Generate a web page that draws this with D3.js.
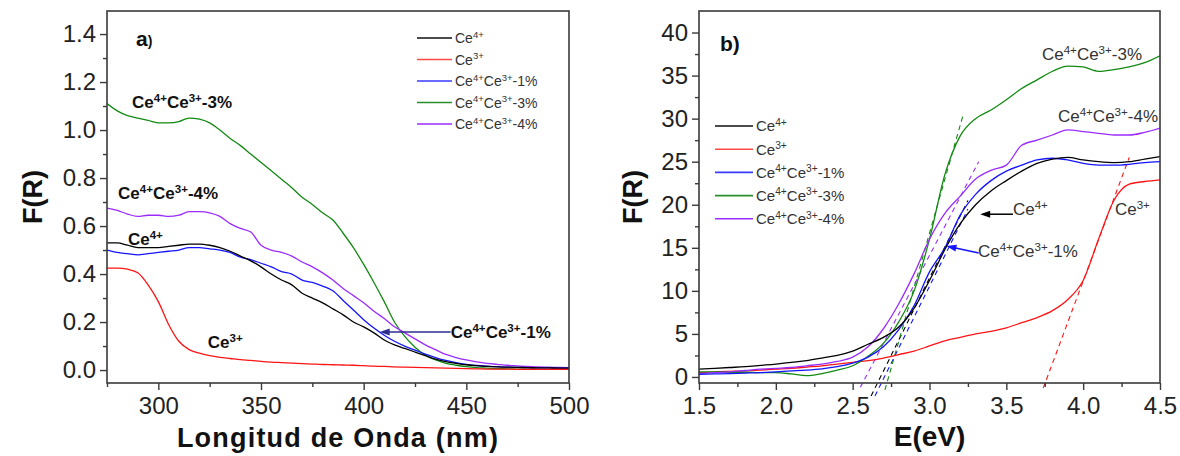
<!DOCTYPE html>
<html><head><meta charset="utf-8">
<script src="https://cdn.jsdelivr.net/npm/d3@7"></script>
<style>
body{margin:0;background:#fff;}
svg{display:block;font-family:"Liberation Sans",Arial,sans-serif;}
</style></head><body>
<svg id="chart" width="1180" height="456"></svg>
<script>
// ---------- data ----------
const seriesNames = ["Ce^{4+}", "Ce^{3+}", "Ce^{4+}Ce^{3+}-1%", "Ce^{4+}Ce^{3+}-3%", "Ce^{4+}Ce^{3+}-4%"];
const seriesColors = ["#000000", "#ff1414", "#1414ff", "#128a12", "#9b2cff"];
const legendColors = ["#111111", "#ff4a4a", "#3a3aff", "#2a8f2a", "#9b2cff"];

// panel a: wavelength (nm)
const wavelength = [275,280,285,290,295,300,305,310,315,320,325,330,335,340,345,350,355,360,365,370,375,380,385,390,395,400,405,410,415,420,425,430,435,440,445,450,455,460,465,470,475,480,485,490,495,500];
const aCe4 = [0.53,0.53,0.52,0.51,0.51,0.51,0.515,0.52,0.525,0.525,0.52,0.51,0.495,0.475,0.455,0.43,0.40,0.375,0.355,0.32,0.30,0.28,0.255,0.23,0.20,0.18,0.155,0.125,0.105,0.09,0.075,0.06,0.045,0.035,0.028,0.022,0.018,0.015,0.013,0.012,0.011,0.010,0.009,0.009,0.008,0.008];
const aCe3 = [0.425,0.425,0.42,0.405,0.355,0.285,0.19,0.12,0.085,0.07,0.06,0.053,0.048,0.043,0.04,0.036,0.033,0.031,0.029,0.027,0.025,0.023,0.022,0.021,0.02,0.018,0.016,0.015,0.013,0.012,0.011,0.01,0.009,0.008,0.007,0.006,0.005,0.004,0.004,0.004,0.003,0.003,0.003,0.003,0.003,0.003];
const aMix1 = [0.50,0.49,0.485,0.48,0.485,0.49,0.495,0.50,0.51,0.51,0.505,0.50,0.49,0.47,0.46,0.445,0.43,0.41,0.40,0.375,0.365,0.35,0.33,0.29,0.25,0.21,0.175,0.145,0.12,0.10,0.083,0.066,0.052,0.04,0.031,0.024,0.019,0.016,0.014,0.012,0.011,0.010,0.009,0.009,0.008,0.008];
const aMix3 = [1.11,1.08,1.06,1.05,1.04,1.03,1.03,1.035,1.05,1.045,1.03,1.00,0.965,0.935,0.90,0.865,0.83,0.795,0.76,0.72,0.69,0.655,0.625,0.57,0.51,0.44,0.365,0.285,0.20,0.14,0.095,0.062,0.042,0.028,0.02,0.014,0.01,0.008,0.006,0.005,0.004,0.004,0.003,0.003,0.003,0.003];
const aMix4 = [0.675,0.665,0.65,0.64,0.645,0.645,0.64,0.645,0.66,0.66,0.655,0.64,0.61,0.59,0.575,0.52,0.50,0.49,0.475,0.45,0.43,0.405,0.375,0.34,0.31,0.28,0.245,0.215,0.18,0.155,0.13,0.105,0.085,0.065,0.052,0.042,0.034,0.028,0.024,0.02,0.017,0.015,0.013,0.012,0.011,0.010];

// panel b: photon energy (eV)
const energy = [1.5,1.6,1.7,1.8,1.9,2.0,2.1,2.2,2.3,2.4,2.5,2.6,2.7,2.8,2.9,3.0,3.1,3.2,3.3,3.4,3.5,3.6,3.7,3.8,3.9,4.0,4.1,4.2,4.3,4.4,4.5];
const bCe4 = [0.9,1.0,1.1,1.2,1.35,1.5,1.7,1.9,2.2,2.5,3.0,3.8,4.6,5.8,8.0,11.2,14.8,17.8,20.0,21.6,22.8,23.9,24.8,25.3,25.5,25.2,25.0,24.9,25.0,25.3,25.6];
const bCe3 = [0.5,0.6,0.65,0.7,0.8,0.9,1.0,1.15,1.3,1.5,1.7,1.9,2.2,2.6,3.0,3.6,4.2,4.6,5.0,5.3,5.7,6.3,6.9,7.7,9.0,11.2,16.0,20.5,22.4,22.7,22.9];
const bMix1 = [0.3,0.35,0.4,0.45,0.5,0.6,0.7,0.8,0.95,1.2,1.6,2.3,3.5,5.5,8.3,12.2,15.0,18.8,21.2,22.8,23.9,24.6,25.2,25.4,25.2,24.8,24.6,24.6,24.7,24.9,25.0];
const bMix3 = [0.6,0.6,0.55,0.55,0.5,0.5,0.35,0.15,0.4,0.8,1.3,2.4,3.9,6.4,10.0,16.0,23.5,28.0,30.0,31.0,32.2,33.5,34.5,35.5,36.1,36.0,35.5,35.7,36.0,36.5,37.3];
const bMix4 = [0.4,0.5,0.6,0.75,0.9,1.0,1.1,1.3,1.5,1.8,2.3,3.5,5.6,8.5,12.0,16.0,19.0,21.0,23.0,24.0,24.6,26.9,27.5,28.1,28.7,28.5,28.3,28.1,28.1,28.4,28.9];

// dashed band-gap tangents: [E start, F start, E end, F end]
const tangentCe4 = [2.62, -2.2, 3.25, 20.5];
const tangentCe3 = [3.74, -1.3, 4.30, 25.5];
const tangentMix1 = [2.645, -2.2, 3.25, 19.5];
const tangentMix3 = [2.71, -1.5, 3.22, 30.5];
const tangentMix4 = [2.55, -1.2, 3.32, 25.0];

// tick labels
const aXTicks = [300, 350, 400, 450, 500];
const aYTicks = [0.0, 0.2, 0.4, 0.6, 0.8, 1.0, 1.2, 1.4];
const bXTicks = [1.5, 2.0, 2.5, 3.0, 3.5, 4.0, 4.5];
const bYTicks = [0, 5, 10, 15, 20, 25, 30, 35, 40];

// annotations [text, x, y]
const aLabels = [["Ce^{4+}Ce^{3+}-3%", 287.2, 1.092], ["Ce^{4+}Ce^{3+}-4%", 280.4, 0.712], ["Ce^{4+}", 285.2, 0.521], ["Ce^{3+}", 324.1, 0.092], ["Ce^{4+}Ce^{3+}-1%", 442.4, 0.133]];
const aArrows = [[442.4, 0.158, 407.8, 0.158]];
const bLabels = [["Ce^{4+}Ce^{3+}-3%", 3.732, 36.8], ["Ce^{4+}Ce^{3+}-4%", 3.836, 29.6], ["Ce^{4+}", 3.543, 18.8], ["Ce^{4+}Ce^{3+}-1%", 3.315, 13.9], ["Ce^{3+}", 4.207, 18.8]];
const bArrows = [[3.543, 18.9, 3.33, 18.9, "#000"], [3.32, 14.4, 3.11, 15.2, "#1414ff"]];

// ---------- drawing ----------
const svg = d3.select("#chart");
const defs = svg.append("defs");

function rich(textSel, str, fs) {
  const parts = str.split(/(\^\{[^}]*\})/).filter(s => s.length);
  let prevSup = false;
  parts.forEach(p => {
    if (p.startsWith("^{")) {
      textSel.append("tspan").text(p.slice(2, -1)).attr("font-size", fs * 0.68).attr("dy", -fs * 0.38);
      prevSup = true;
    } else {
      const t = textSel.append("tspan").text(p).attr("font-size", fs);
      if (prevSup) t.attr("dy", fs * 0.38);
      prevSup = false;
    }
  });
}

function panel(cfg) {
  const g = svg.append("g");
  const x = d3.scaleLinear().domain(cfg.xDomain).range([cfg.left, cfg.right]);
  const y = d3.scaleLinear().domain(cfg.yDomain).range([cfg.bottom, cfg.top]);
  const clipId = "clip" + cfg.id;
  defs.append("clipPath").attr("id", clipId).append("rect")
    .attr("x", cfg.left).attr("y", cfg.top).attr("width", cfg.right - cfg.left).attr("height", cfg.bottom - cfg.top);

  if (cfg.tangents) {
    cfg.tangents.forEach((t, i) => {
      g.append("line").attr("x1", x(t[0])).attr("y1", y(t[1])).attr("x2", x(t[2])).attr("y2", y(t[3]))
        .attr("stroke", seriesColors[i]).attr("stroke-width", 1.1).attr("stroke-dasharray", "5,4");
    });
  }

  const line = d3.line().x((d, i) => x(cfg.xs[i])).y(d => y(d)).curve(d3.curveMonotoneX);
  const lines = g.append("g").attr("clip-path", `url(#${clipId})`);
  cfg.order.forEach(i => {
    lines.append("path").attr("d", line(cfg.series[i])).attr("fill", "none")
      .attr("stroke", seriesColors[i]).attr("stroke-width", 1.3).attr("stroke-linejoin", "round");
  });

  g.append("rect").attr("x", cfg.left).attr("y", cfg.top).attr("width", cfg.right - cfg.left).attr("height", cfg.bottom - cfg.top)
    .attr("fill", "none").attr("stroke", "#3a3a3a").attr("stroke-width", 1.6);

  const xAxis = g.append("g").attr("transform", `translate(0,${cfg.bottom})`)
    .call(d3.axisBottom(x).tickValues(cfg.xTicks).tickFormat(cfg.xFmt).tickSize(7).tickPadding(7));
  const xMinor = g.append("g").attr("transform", `translate(0,${cfg.bottom})`)
    .call(d3.axisBottom(x).tickValues(cfg.xMinor).tickFormat("").tickSize(4));
  const yAxis = g.append("g").attr("transform", `translate(${cfg.left},0)`)
    .call(d3.axisLeft(y).tickValues(cfg.yTicks).tickFormat(cfg.yFmt).tickSize(7).tickPadding(4));
  const yMinor = g.append("g").attr("transform", `translate(${cfg.left},0)`)
    .call(d3.axisLeft(y).tickValues(cfg.yMinor).tickFormat("").tickSize(4));
  [xAxis, xMinor, yAxis, yMinor].forEach(a => {
    a.select(".domain").remove();
    a.selectAll("line").attr("stroke", "#3a3a3a").attr("stroke-width", 1.4);
    a.selectAll("text").attr("font-size", 24).attr("fill", "#222").attr("font-family", '"Liberation Sans",Arial,sans-serif');
  });

  g.append("text").attr("transform", `translate(${cfg.yTitleX},${(cfg.top + cfg.bottom) / 2}) rotate(-90)`)
    .attr("text-anchor", "middle").attr("font-size", 27).attr("font-weight", "bold").attr("fill", "#111").text("F(R)");
  g.append("text").attr("x", (cfg.left + cfg.right) / 2).attr("y", cfg.xTitleY).attr("text-anchor", "middle")
    .attr("font-size", cfg.xTitleSize).attr("font-weight", "bold").attr("fill", "#111")
    .attr("letter-spacing", cfg.xTitleSpacing).text(cfg.xTitle);

  const pl = g.append("text").attr("x", cfg.letterX).attr("y", cfg.letterY).attr("font-weight", "bold").attr("fill", "#111");
  pl.append("tspan").text(cfg.letter).attr("font-size", 21);
  pl.append("tspan").text(")").attr("font-size", cfg.parenSize);

  seriesNames.forEach((n, i) => {
    const ly = cfg.legY + i * cfg.legStep;
    g.append("line").attr("x1", cfg.legX).attr("x2", cfg.legX + cfg.legLen).attr("y1", ly).attr("y2", ly)
      .attr("stroke", legendColors[i]).attr("stroke-width", 1.6);
    const t = g.append("text").attr("x", cfg.legX + cfg.legLen + 3).attr("y", ly + cfg.legFs * 0.36).attr("fill", "#333");
    rich(t, n, cfg.legFs);
  });

  cfg.labels.forEach(l => {
    const t = g.append("text").attr("x", x(l[1])).attr("y", y(l[2])).attr("fill", cfg.labelColor)
      .attr("font-weight", cfg.labelWeight);
    rich(t, l[0], cfg.labelFs);
  });
  cfg.arrows.forEach(a => {
    const col = a[4] || cfg.arrowColor;
    const x1 = x(a[0]), y1 = y(a[1]), x2 = x(a[2]), y2 = y(a[3]);
    g.append("line").attr("x1", x1).attr("y1", y1).attr("x2", x2 + 8).attr("y2", y2 + (y1 - y2) * 8 / (x1 - x2))
      .attr("stroke", col).attr("stroke-width", 1.5);
    const ang = Math.atan2(y2 - y1, x2 - x1);
    const hl = 10, hw = 3.5;
    const bx = x2 - hl * Math.cos(ang), by = y2 - hl * Math.sin(ang);
    const px = -Math.sin(ang) * hw, py = Math.cos(ang) * hw;
    g.append("path").attr("d", `M${x2},${y2}L${bx + px},${by + py}L${bx - px},${by - py}Z`).attr("fill", col);
  });
}

panel({
  id: "a", left: 107, right: 569, top: 11, bottom: 383,
  xDomain: [275, 500], yDomain: [-0.054, 1.496],
  xs: wavelength, series: [aCe4, aCe3, aMix1, aMix3, aMix4], order: [3, 4, 2, 0, 1],
  xTicks: aXTicks, xMinor: [275, 325, 375, 425, 475], yTicks: aYTicks, yMinor: [0.1, 0.3, 0.5, 0.7, 0.9, 1.1, 1.3],
  xFmt: d3.format("d"), yFmt: d3.format(".1f"),
  yTitleX: 42, xTitleY: 447, xTitle: "Longitud de Onda (nm)", xTitleSize: 27, xTitleSpacing: 1.2,
  letter: "a", letterX: 136, letterY: 46, parenSize: 14,
  legX: 417, legY: 38, legStep: 21.5, legLen: 35, legFs: 14,
  labels: aLabels, labelFs: 17, labelWeight: "bold", labelColor: "#111",
  arrows: aArrows, arrowColor: "#2e2e90"
});

panel({
  id: "b", left: 699, right: 1160, top: 11, bottom: 383,
  xDomain: [1.5, 4.5], yDomain: [-0.7, 42.5],
  xs: energy, series: [bCe4, bCe3, bMix1, bMix3, bMix4], order: [1, 3, 4, 2, 0],
  tangents: [tangentCe4, tangentCe3, tangentMix1, tangentMix3, tangentMix4],
  xTicks: bXTicks, xMinor: [1.75, 2.25, 2.75, 3.25, 3.75, 4.25], yTicks: bYTicks, yMinor: [2.5, 7.5, 12.5, 17.5, 22.5, 27.5, 32.5, 37.5],
  xFmt: d3.format(".1f"), yFmt: d3.format("d"),
  yTitleX: 642, xTitleY: 446, xTitle: "E(eV)", xTitleSize: 28, xTitleSpacing: 0,
  letter: "b", letterX: 720, letterY: 51, parenSize: 21,
  legX: 715, legY: 126, legStep: 23.2, legLen: 38, legFs: 15,
  labels: bLabels, labelFs: 17, labelWeight: "normal", labelColor: "#333",
  arrows: bArrows, arrowColor: "#000"
});
</script>
</body></html>
